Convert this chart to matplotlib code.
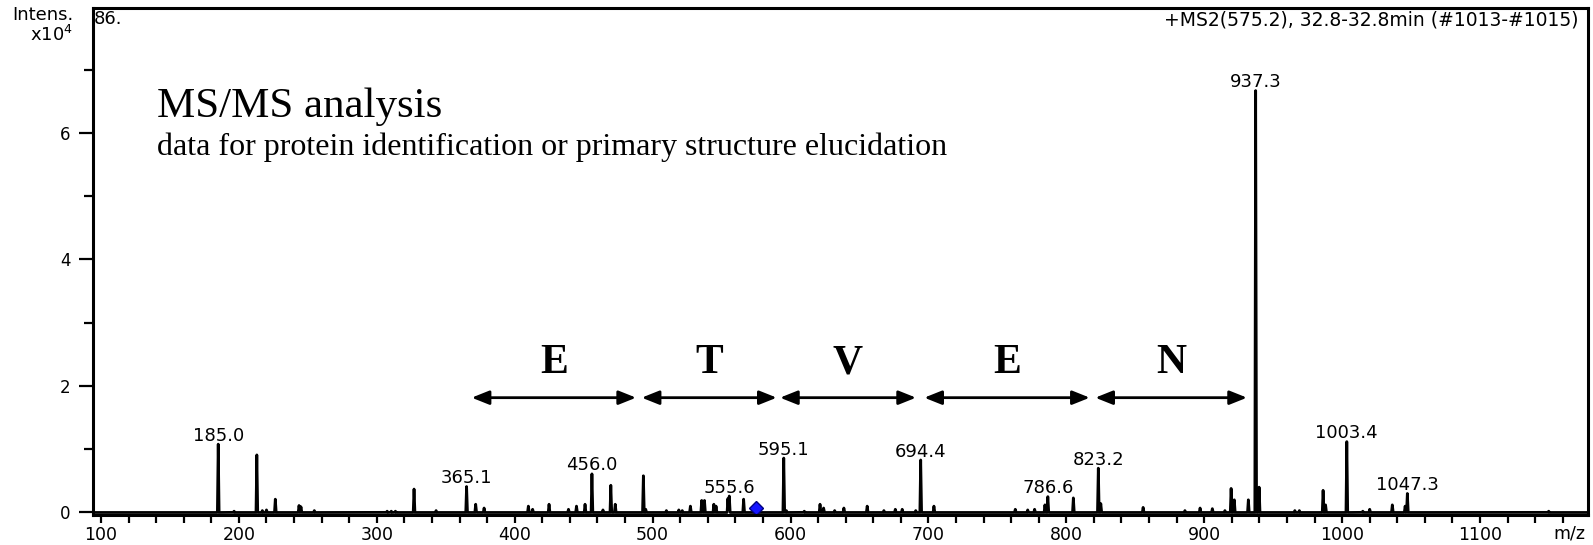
import numpy as np
import matplotlib
matplotlib.use("Agg")
import matplotlib.pyplot as plt

plt.rcParams['font.family'] = 'DejaVu Sans'
plt.rcParams['mathtext.default'] = 'regular'

W, H = 1593, 545

# peak list: m/z and intensity (x10^4)
peak_mz = [185.0, 196.5, 213.0, 217.0, 220.0, 226.4, 243.6, 245.0, 254.7,
           307.5, 310.5, 313.5, 327.0, 343.0, 365.1, 371.7, 377.8,
           409.9, 413.0, 424.9, 439.0, 444.8, 451.0, 456.0, 464.0, 469.7, 472.9,
           493.3, 495.0, 510.0, 519.0, 521.5, 527.4, 535.6, 537.6, 544.4, 546.0,
           554.6, 555.6, 566.0, 595.1, 597.0, 610.0, 621.4, 624.0, 632.0, 638.7,
           655.6, 667.7, 676.0, 681.0, 690.8, 694.4, 704.0, 763.0, 772.0, 777.0,
           784.5, 786.6, 805.1, 823.2, 825.0, 855.7, 886.0, 897.0, 905.9, 915.0,
           919.5, 921.8, 932.0, 937.3, 939.8, 965.7, 969.0, 986.2, 988.0, 1003.4,
           1015.0, 1020.0, 1036.4, 1045.7, 1047.3, 1149.8]
peak_int = [1.08, 0.02, 0.91, 0.03, 0.04, 0.21, 0.11, 0.09, 0.03,
            0.02, 0.02, 0.02, 0.37, 0.03, 0.41, 0.13, 0.07,
            0.10, 0.05, 0.13, 0.05, 0.10, 0.13, 0.61, 0.04, 0.43, 0.13,
            0.58, 0.05, 0.03, 0.04, 0.03, 0.10, 0.19, 0.19, 0.13, 0.10,
            0.22, 0.26, 0.21, 0.86, 0.03, 0.02, 0.13, 0.07, 0.03, 0.07,
            0.10, 0.03, 0.05, 0.05, 0.03, 0.83, 0.10, 0.05, 0.04, 0.05,
            0.12, 0.25, 0.23, 0.70, 0.14, 0.08, 0.03, 0.07, 0.06, 0.03,
            0.38, 0.20, 0.20, 6.67, 0.40, 0.03, 0.03, 0.35, 0.12, 1.12,
            0.02, 0.05, 0.12, 0.10, 0.30, 0.02]
label_mz = [185.0, 365.1, 456.0, 555.6, 595.1, 694.4, 786.6, 823.2, 937.3, 1003.4, 1047.3]

residues = ["E", "T", "V", "E", "N"]
arrow_start = [368.8, 492.1, 592.4, 697.0, 821.0]
arrow_end = [488.0, 590.0, 691.0, 817.0, 931.0]
precursor_mz = 575.2
header = "+MS2(575.2), 32.8-32.8min (#1013-#1015)"

fig = plt.figure(figsize=(W / 100, H / 100), dpi=100)
ax = fig.add_axes([93 / W, 30 / H, (1588 - 93) / W, (515 - 8) / H])
ax.set_xlim(94.2, 1178.3)
ax.set_ylim(-0.04, 7.976)

# profile spectrum: narrow triangle per peak
x = np.arange(94.2, 1178.3, 0.05)
y = np.zeros_like(x)
for m, h in zip(peak_mz, peak_int):
    y = np.maximum(y, h * np.clip(1 - np.abs(x - m) / 0.6, 0, None))
ax.plot(x, y, color='black', lw=2.0)

for m in label_mz:
    h = peak_int[peak_mz.index(m)]
    ax.annotate(f"{m:.1f}", (m, h), xytext=(0, 2.5), textcoords='offset points',
                ha='center', va='baseline', fontsize=13)

ax.plot(precursor_mz, 0.07, marker='D', ms=7, mfc='#1414ff', mec='#000080', mew=1)

arrow_y = 1.815
letter_y = 2.2
for s, e, r in zip(arrow_start, arrow_end, residues):
    ax.annotate('', xy=(e, arrow_y), xytext=(s, arrow_y),
                arrowprops=dict(arrowstyle='<|-|>,head_length=0.75,head_width=0.3',
                                mutation_scale=14, lw=2.0, color='black',
                                shrinkA=0, shrinkB=0))
    ax.text((s + e) / 2, letter_y, r, ha='center', va='baseline', fontsize=30,
            fontweight='bold', family='Liberation Serif')

ax.set_xticks(np.arange(100, 1101, 100))
ax.set_xticks(np.arange(100, 1178, 20), minor=True)
ax.set_yticks([0, 2, 4, 6])
ax.set_yticks([1, 3, 5, 7], minor=True)
ax.tick_params(axis='x', which='both', direction='out', length=5.8, width=1.6,
               pad=2, labelsize=12.5)
ax.tick_params(axis='y', which='major', direction='out', length=10, width=1.6,
               pad=6, labelsize=12)
ax.tick_params(axis='y', which='minor', direction='out', length=6.5, width=1.6)
for sp in ax.spines.values():
    sp.set_linewidth(2.2)

fig.text(1578 / W, 1 - 19.5 / H, header, ha='right', va='center', fontsize=13.5)
fig.text(94 / W, 1 - 19 / H, "86.", ha='left', va='center', fontsize=13)
fig.text(73 / W, 1 - 20 / H, "Intens.", ha='right', va='baseline', fontsize=13)
fig.text(73 / W, 1 - 41 / H, "x10$^4$", ha='right', va='baseline', fontsize=13)
fig.text(1585 / W, 1 - 538 / H, "m/z", ha='right', va='baseline', fontsize=12.5)

fig.text(157 / W, 1 - 117 / H, "MS/MS analysis", family='Liberation Serif',
         fontsize=31, va='baseline')
fig.text(157 / W, 1 - 154.5 / H,
         "data for protein identification or primary structure elucidation",
         family='Liberation Serif', fontsize=23, va='baseline')

fig.savefig("out.png", dpi=100)
